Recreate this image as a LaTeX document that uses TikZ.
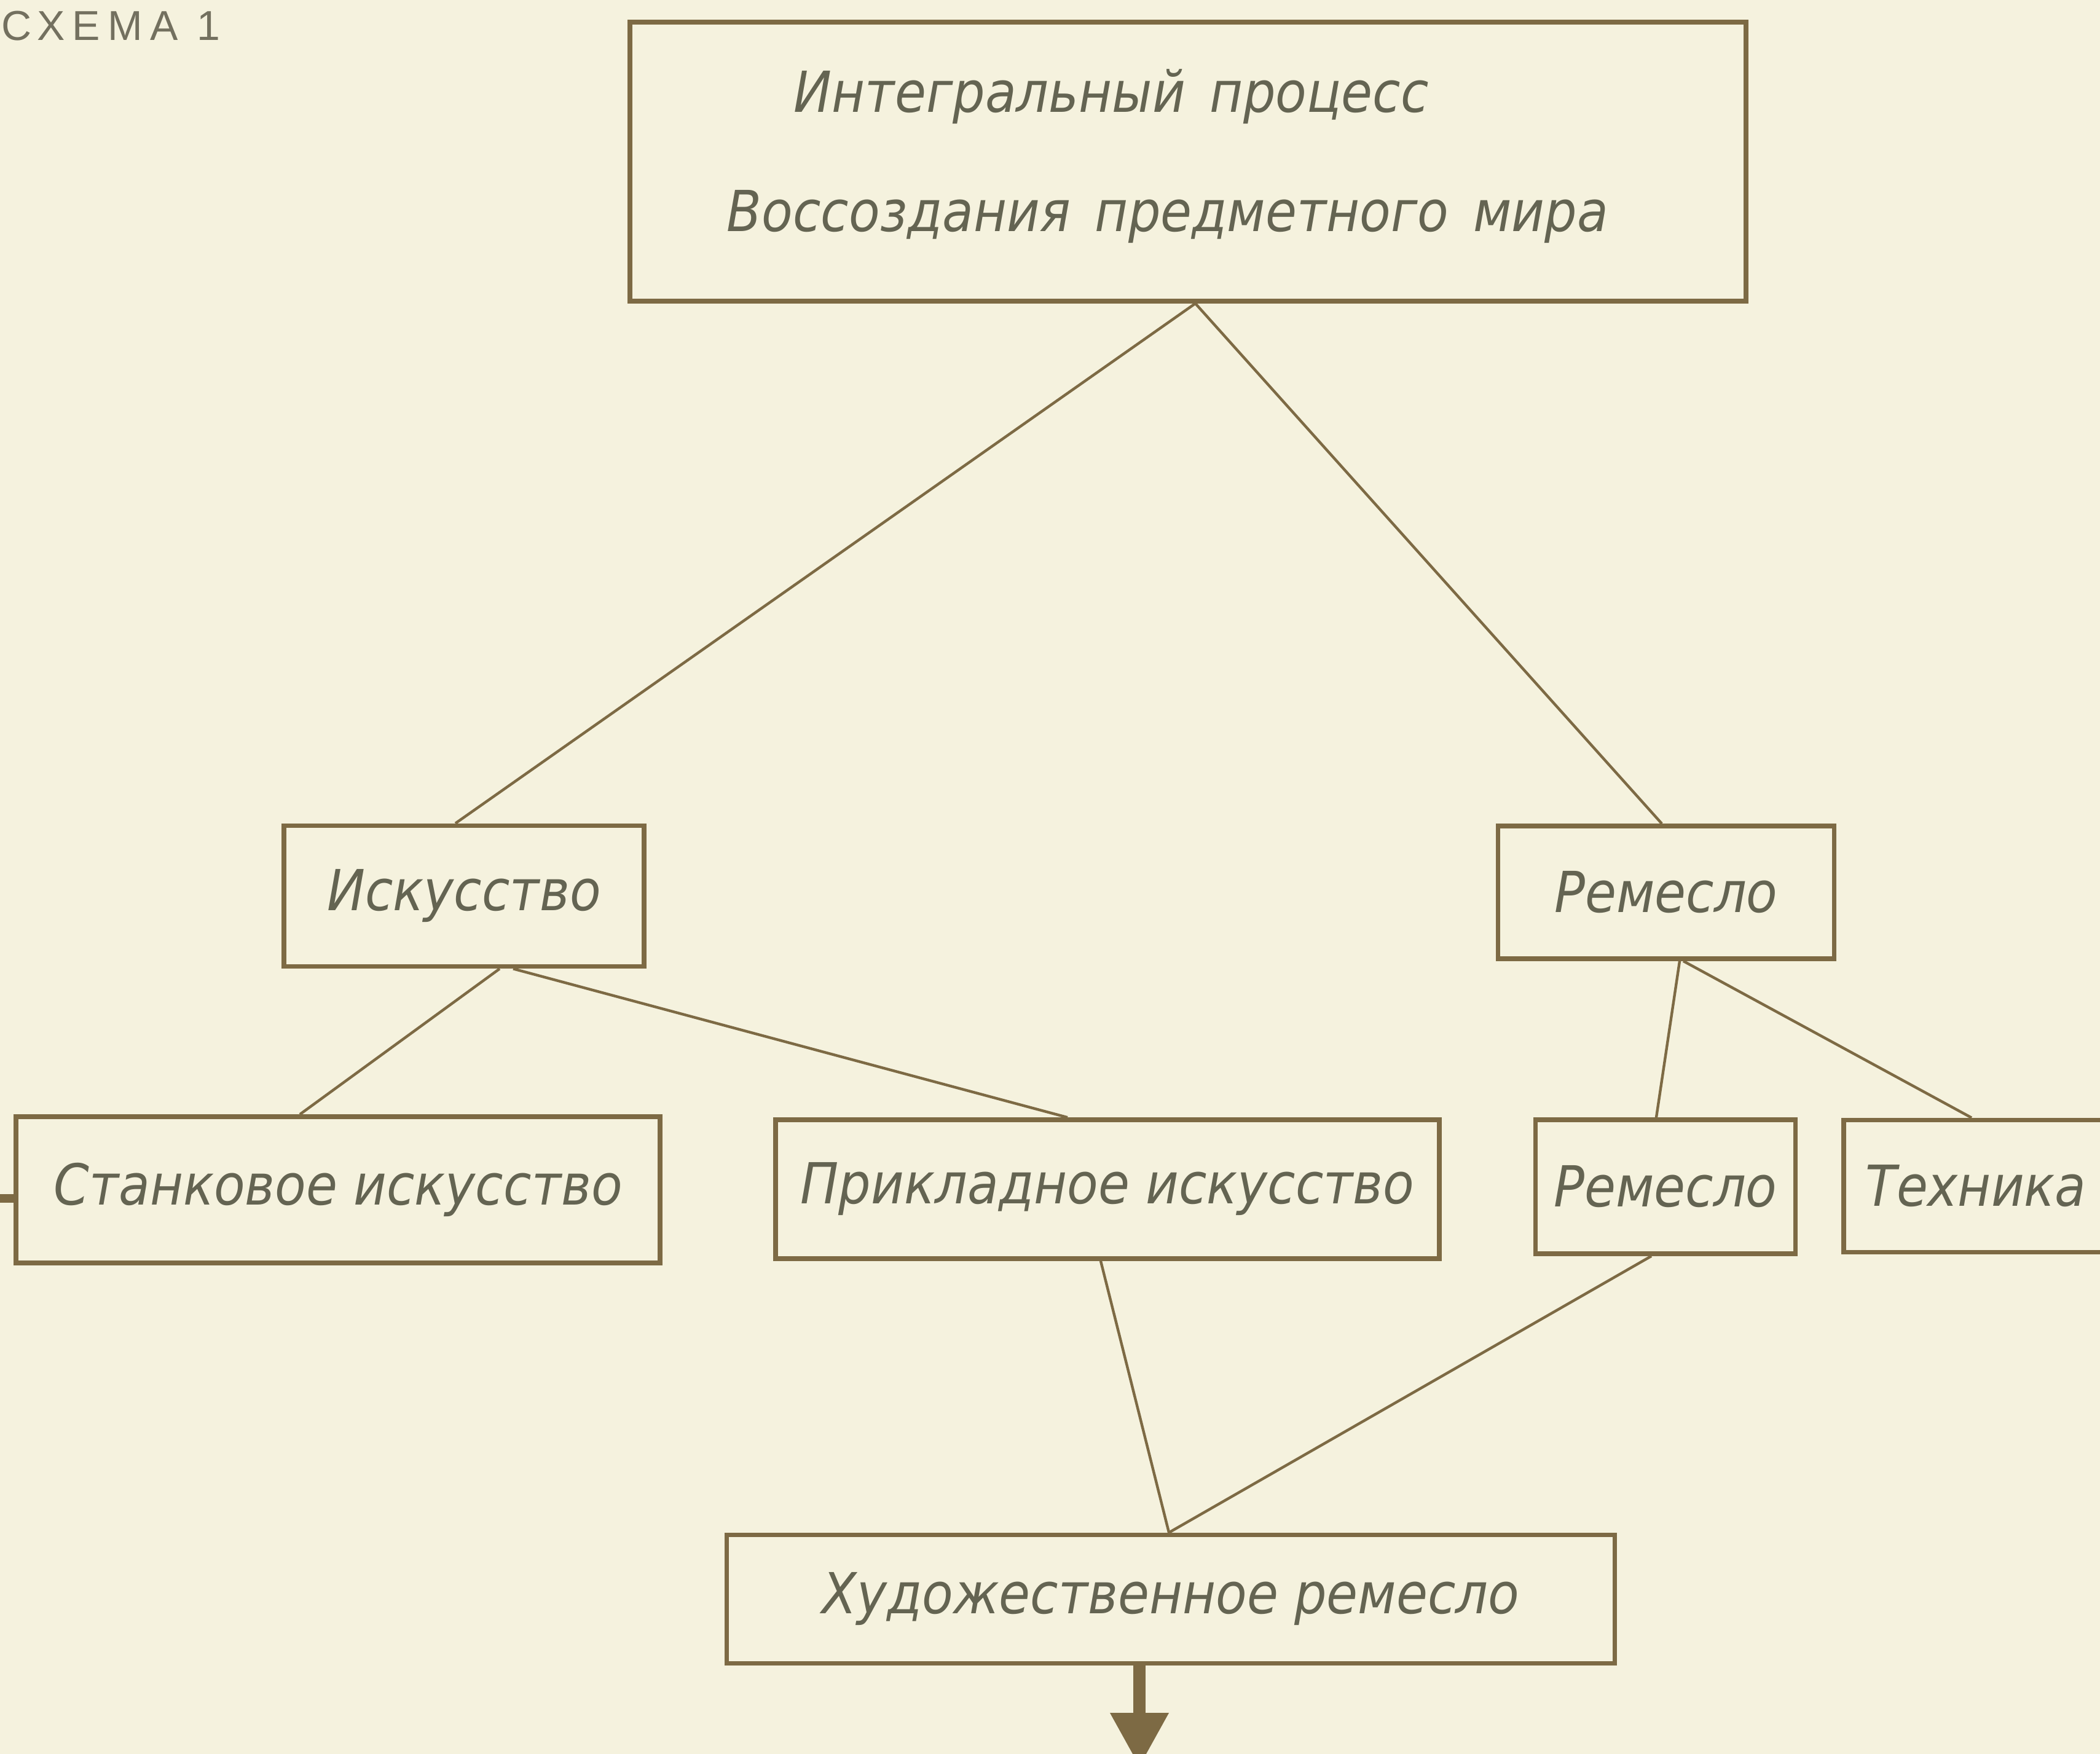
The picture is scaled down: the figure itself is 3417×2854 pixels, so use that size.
\documentclass[tikz,border=0pt]{standalone}
\usepackage{fontspec}
\usetikzlibrary{arrows.meta,calc}
\newfontfamily\gost{DejaVu Sans}[FakeStretch=0.9]
\newfontfamily\capfont{Liberation Sans}[LetterSpace=18]
\definecolor{paper}{RGB}{245,242,222}
\definecolor{ink}{RGB}{125,106,68}
\definecolor{txt}{RGB}{100,100,82}
\begin{document}
\begin{tikzpicture}[x=0.25pt,y=-0.25pt,
  box/.style={draw=ink,line width=1.9pt,inner sep=0pt,text=txt,
    font=\gost\itshape\fontsize{23}{27}\selectfont},
  boxtext/.style={inner sep=0pt,text=txt,font=\gost\itshape\fontsize{23}{27}\selectfont},
  link/.style={draw=ink,line width=1.1pt},
  stub/.style={draw=ink,line width=3.3pt},
  outarrow/.style={draw=ink,line width=5pt,-{Triangle[width=22.5pt,length=22pt]}}]
\useasboundingbox (0,0) rectangle (3417,2854);
\fill[paper] (0,0) rectangle (3417,2854);
\clip (0,0) rectangle (3417,2854);

\node[anchor=west,inner sep=0pt,text={rgb,255:red,115;green,112;blue,95},
  font=\capfont\fontsize{17}{20}\selectfont] (title) at (2,42) {СХЕМА 1};

\node[box,minimum width=454pt,minimum height=113.5pt] (top) at (1933,263) {};
\node[boxtext,anchor=base west] (t1) at (1291,183) {Интегральный\hspace{10pt}процесс};
\node[boxtext,anchor=base west] (t2) at (1182,377) {Воссоздания\hspace{10pt}предметного\hspace{10pt}мира};

\node[box,minimum width=146.5pt,minimum height=57.25pt] (isk) at (755,1458) {Искусство};
\node[box,minimum width=136.75pt,minimum height=54pt] (rem1) at (2711,1452) {Ремесло};
\node[box,minimum width=262pt,minimum height=59.5pt] (stan) at (550,1936) {Станковое искусство};
\node[box,minimum width=270pt,minimum height=56.5pt] (prik) at (1802,1935) {Прикладное искусство};
\node[box,minimum width=105.75pt,minimum height=54.5pt] (rem2) at (2710,1931) {Ремесло};
\node[box,minimum width=107.5pt,minimum height=53.75pt] (tech) at (3215,1930) {Техника};
\node[box,minimum width=361.25pt,minimum height=52.25pt] (hud) at (1905,2602) {Художественное ремесло};

\coordinate (leftend) at (-20,1950);
\coordinate (arrowend) at (1854,2875);

\draw[link] ([xshift=3pt]top.south) -- ([xshift=-3.5pt]isk.north);
\draw[link] ([xshift=3pt]top.south) -- ([xshift=-1.75pt]rem1.north);
\draw[link] ([xshift=14.5pt]isk.south) -- ([xshift=-15.5pt]stan.north);
\draw[link] ([xshift=20pt]isk.south) -- ([xshift=-16.25pt]prik.north);
\draw[link] ([xshift=5.5pt]rem1.south) -- ([xshift=-3.75pt]rem2.north);
\draw[link] ([xshift=7pt]rem1.south) -- ([xshift=-1.75pt]tech.north);
\draw[link] ([xshift=-2.75pt]prik.south) -- ([xshift=-0.75pt]hud.north);
\draw[link] ([xshift=-5.75pt]rem2.south) -- ([xshift=-0.75pt]hud.north);
\draw[stub] (leftend) -- ([yshift=-3.5pt]stan.west);
\draw[outarrow] ([xshift=-12.75pt]hud.south) -- (arrowend);
\end{tikzpicture}
\end{document}
